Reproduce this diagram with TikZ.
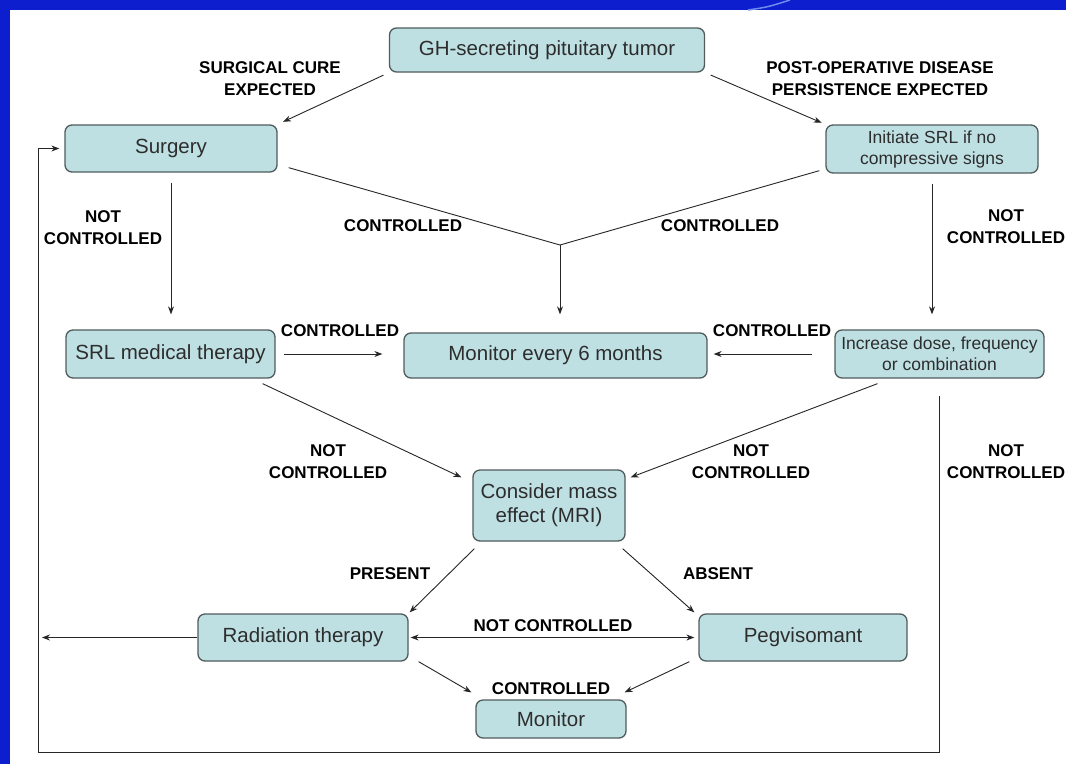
\documentclass[tikz,border=0pt]{standalone}
\usepackage{fontspec}
\setmainfont{Liberation Sans}
\usetikzlibrary{arrows.meta}
\usetikzlibrary{calc}

\definecolor{slideblue}{RGB}{12,30,205}
\definecolor{swooshblue}{RGB}{110,140,235}
\definecolor{boxfill}{RGB}{191,224,227}
\definecolor{boxline}{RGB}{80,92,92}
\definecolor{boxtext}{RGB}{45,45,45}

\tikzset{
  box/.style={draw=boxline, fill=boxfill, line width=1.3pt, rounded corners=7pt,
    text=boxtext, align=center, inner sep=0pt, font=\fontsize{20.5}{24}\selectfont},
  smallbox/.style={box, font=\fontsize{17.5}{21}\selectfont},
  lbl/.style={align=center, inner sep=0pt, font=\fontsize{17}{22}\selectfont\bfseries},
  arr/.style={-{Stealth[length=8pt,width=6pt]}, line width=0.9pt, draw=black!85},
  twoarr/.style={{Stealth[length=8pt,width=6pt]}-{Stealth[length=8pt,width=6pt]}, line width=0.9pt, draw=black!85},
  plain/.style={line width=0.9pt, draw=black!85}
}

\begin{document}
\begin{tikzpicture}[x=1pt, y=-1pt]
            % Slide frame
            \useasboundingbox (0,0) rectangle (1066,764);
            \fill[white] (0,0) rectangle (1066,764);
            \fill[slideblue] (0,0) rectangle (1066,10);
            \fill[slideblue] (0,0) rectangle (10,764);
            \draw[swooshblue, line width=1.5pt] (748,10) .. controls (768,7) .. (790,0);

            % Boxes
            \node[box, minimum width=315, minimum height=44] (tumor) at (547,50) {GH-secreting pituitary tumor};
            \node[box, minimum width=212, minimum height=47] (surgery) at (171,148.5) {Surgery};
            \node[smallbox, minimum width=212, minimum height=48] (initiate) at (932,149) {Initiate SRL if no\\compressive signs};
            \node[box, minimum width=209, minimum height=48] (srl) at (170.5,354) {SRL medical therapy};
            \node[box, minimum width=303, minimum height=45] (monitorsix) at (555.5,355.5) {Monitor every 6 months};
            \node[smallbox, minimum width=209, minimum height=48] (increase) at (939.5,354) {Increase dose, frequency\\or combination};
            \node[box, minimum width=152, minimum height=71] (mass) at (549,505.5) {Consider mass\\effect (MRI)};
            \node[box, minimum width=210, minimum height=47] (radiation) at (303,637.5) {Radiation therapy};
            \node[box, minimum width=208, minimum height=47] (peg) at (803,637.5) {Pegvisomant};
            \node[box, minimum width=150, minimum height=38] (monitor) at (551,719) {Monitor};

            \coordinate (merge) at (560,245);
            \coordinate (loopbase) at (38,752);

            % Top branches
            \draw[arr, shorten <=6pt, shorten >=6pt] (tumor.south west) -- (surgery.north east);
            \draw[arr, shorten <=6pt, shorten >=4pt] (tumor.south east) -- (initiate.north west);
            \node[lbl] (cure) at (270,79) {SURGICAL CURE\\EXPECTED};
            \node[lbl] (persist) at (880,79) {POST-OPERATIVE DISEASE\\PERSISTENCE EXPECTED};

            % Surgery / SRL column
            \draw[arr, shorten <=10pt, shorten >=15pt] (surgery.south) -- (surgery.south |- srl.north);
            \node[lbl] (nc1) at (103,228) {NOT\\CONTROLLED};
            \draw[arr, shorten <=10pt, shorten >=15pt] (initiate.south) -- (initiate.south |- increase.north);
            \node[lbl] (nc2) at (1006,227) {NOT\\CONTROLLED};

            % Controlled branches into monitoring
            \draw[plain] ([shift={(11,-5)}]surgery.south east) -- (merge);
            \draw[plain] ([shift={(-6,-3)}]initiate.south west) -- (merge);
            \draw[arr, shorten >=18pt] (merge) -- (merge |- monitorsix.north);
            \node[lbl] (c1) at (403,226) {CONTROLLED};
            \node[lbl] (c2) at (720,226) {CONTROLLED};

            \draw[arr, shorten <=8pt, shorten >=21pt] (srl.east) -- (srl.east -| monitorsix.west);
            \draw[arr, shorten <=22pt, shorten >=6pt] (increase.west) -- (increase.west -| monitorsix.east);
            \node[lbl] (c3) at (340,331) {CONTROLLED};
            \node[lbl] (c4) at (772,331) {CONTROLLED};

            % Not controlled into mass effect
            \draw[arr] ([shift={(-13,5)}]srl.south east) -- ([shift={(-11,8)}]mass.north west);
            \draw[arr] ([shift={(-62,5)}]increase.south) -- ([shift={(5,8)}]mass.north east);
            \node[lbl] (nc3) at (328,462) {NOT\\CONTROLLED};
            \node[lbl] (nc4) at (751,462) {NOT\\CONTROLLED};
            \node[lbl] (nc5) at (1006,462) {NOT\\CONTROLLED};

            % Mass effect
            \draw[arr] ([shift={(2,7)}]mass.south west) -- ([shift={(1,-1)}]radiation.north east);
            \draw[arr] ([shift={(-3,7)}]mass.south east) -- ([shift={(-4,-1)}]peg.north west);
            \node[lbl] (present) at (390,574) {PRESENT};
            \node[lbl] (absent) at (718,574) {ABSENT};

            % Bottom row
            \draw[twoarr, shorten <=2pt, shorten >=4pt] (radiation.east) -- (peg.west);
            \node[lbl] (nc6) at (553,626) {NOT CONTROLLED};
            \draw[arr, shorten >=4pt] (radiation.west) -- (radiation.west -| loopbase);
            \draw[arr] ([xshift=10pt]radiation.south east) -- ([shift={(-4,-7)}]monitor.north west);
            \draw[arr] ([xshift=-9pt]peg.south west) -- ([shift={(-2,-7)}]monitor.north east);
            \node[lbl] (c5) at (551,689) {CONTROLLED};

            % Feedback loop back to surgery
            \draw[arr, shorten >=5pt] ([shift={(0,17)}]increase.south) |- (loopbase) |- (surgery.west);
        \end{tikzpicture}
\end{document}
